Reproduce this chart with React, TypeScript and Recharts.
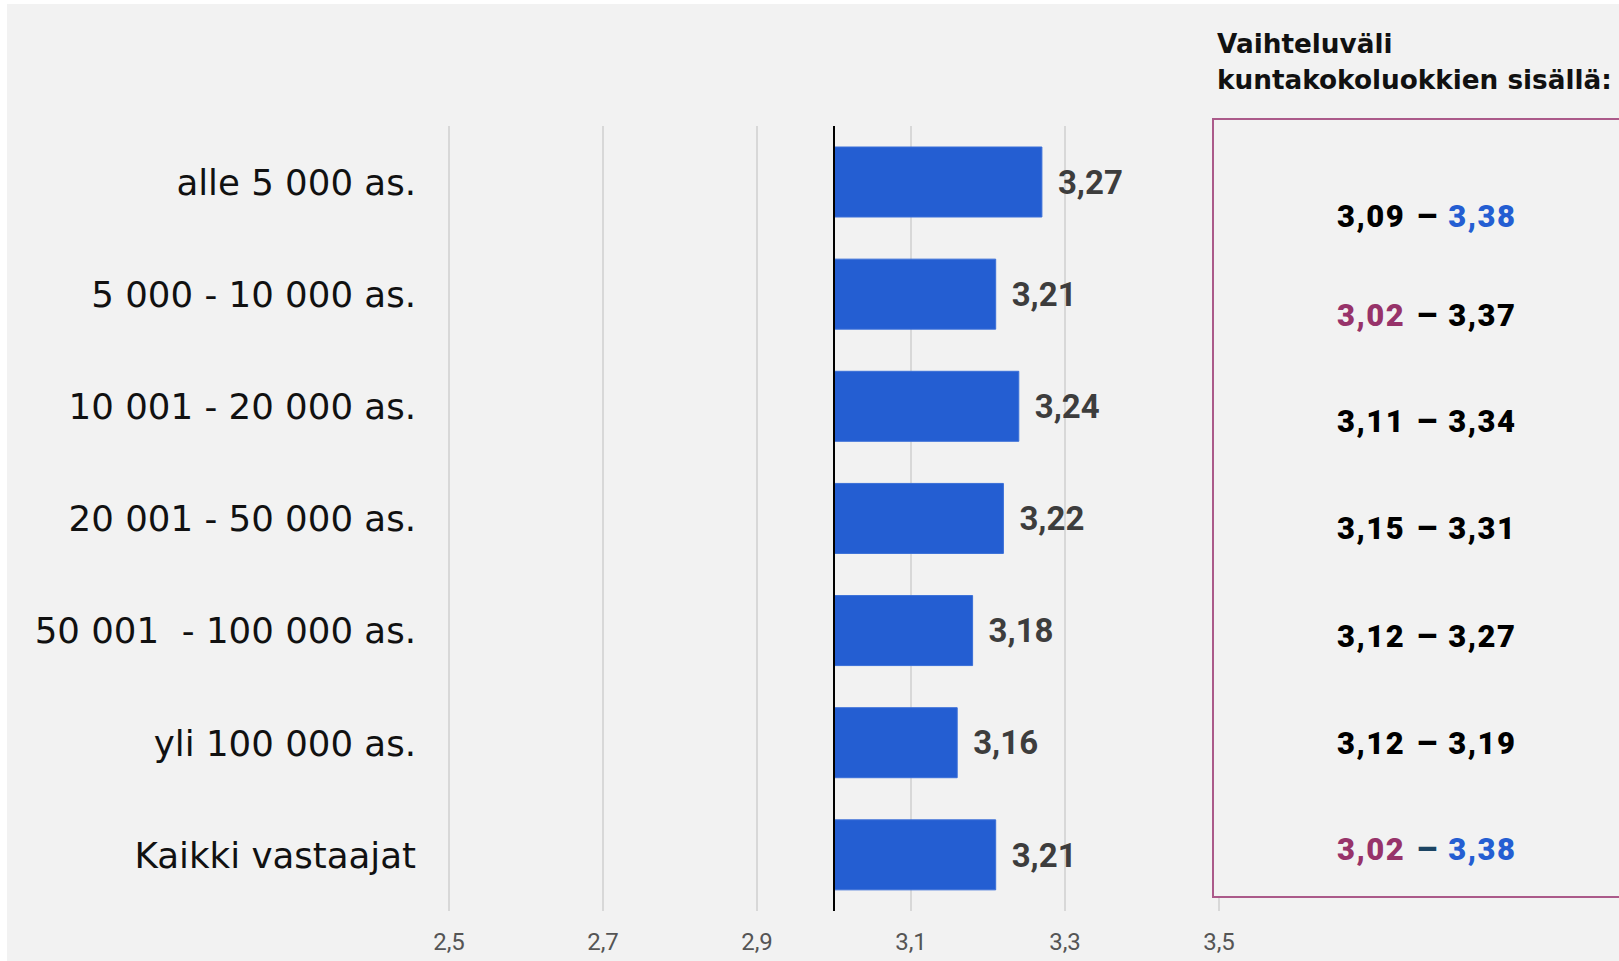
import React from "react";
import {
    BarChart, Bar, XAxis, YAxis, CartesianGrid, ReferenceLine, LabelList
} from 'recharts';

const categories = [
    'alle 5 000 as.',
    '5 000 - 10 000 as.',
    '10 001 - 20 000 as.',
    '20 001 - 50 000 as.',
    '50 001  - 100 000 as.',
    'yli 100 000 as.',
    'Kaikki vastaajat',
];
const means = [3.27, 3.21, 3.24, 3.22, 3.18, 3.16, 3.21];
const rangeLow = [3.09, 3.02, 3.11, 3.15, 3.12, 3.12, 3.02];
const rangeHigh = [3.38, 3.37, 3.34, 3.31, 3.27, 3.19, 3.38];
const xTicks = [2.5, 2.7, 2.9, 3.1, 3.3, 3.5];
const baseline = 3.0;
const panelTitle = ['Vaihteluväli', 'kuntakokoluokkien sisällä:'];

const data = categories.map((name, i) => ({
    name,
    mean: means[i],
    span: [baseline, means[i]],
}));

const fmt = (v: number) => v.toFixed(2).replace('.', ',');
const fmtTick = (v: number) => String(v).replace('.', ',');

// vertical centres of the range rows (in container px)
const rowCenters = [212, 311, 417, 524, 632, 739, 845];

const BLUE = '#245ed2';
const PURPLE = '#97336a';
const NAVY = '#1c4463';

function CategoryTick(props: any) {
    const { x, y, payload } = props;
    return <text x={x} y={y} dy="0.36em" textAnchor="end" fill="#111"
        style={{ whiteSpace: 'pre', fontFamily: '"DejaVu Sans", sans-serif', fontSize: 35.6 }}>
        {payload.value}
    </text>
}

const numStyle = { letterSpacing: '1.5px' };

export default function App() {
    const minLow = Math.min(...rangeLow);
    const maxHigh = Math.max(...rangeHigh);
    return <div style={{
        position: 'absolute', left: 7, top: 4, width: 1612, height: 957,
        background: '#f2f2f2', overflow: 'hidden'
    }}>
        <BarChart
            width={1612}
            height={957}
            layout="vertical"
            data={data}
            margin={{ top: 122, right: 400, left: 0, bottom: 0 }}
            barSize={70}
        >
            <CartesianGrid horizontal={false} stroke="#d8d8d8" strokeWidth={2} />
            <XAxis
                type="number"
                domain={[2.5, 3.5]}
                ticks={xTicks}
                allowDataOverflow
                axisLine={false}
                tickLine={false}
                tickSize={0}
                tickMargin={22}
                height={50}
                tickFormatter={fmtTick}
                tick={{ fill: '#555', fontSize: 24, fontFamily: 'Roboto, sans-serif' }}
            />
            <YAxis
                type="category"
                dataKey="name"
                width={442}
                axisLine={false}
                tickLine={false}
                tickSize={0}
                tickMargin={33}
                tick={<CategoryTick />}
                interval={0}
            />
            <Bar dataKey="span" fill={BLUE} stroke="#3a6fd8" strokeWidth={1} isAnimationActive={false}>
                <LabelList
                    dataKey="mean"
                    position="right"
                    offset={16}
                    formatter={(v: any) => fmt(Number(v))}
                    style={{ fill: '#3d3d3d', fontSize: 33, fontWeight: 700, fontFamily: 'Roboto, sans-serif' }}
                />
            </Bar>
            <ReferenceLine x={baseline} stroke="#000" strokeWidth={2} ifOverflow="visible" />
        </BarChart>

        <div style={{
            position: 'absolute', left: 1210, top: 22, lineHeight: '36px',
            fontFamily: '"DejaVu Sans", sans-serif', fontWeight: 700, fontSize: 26.3, color: '#111',
            whiteSpace: 'nowrap'
        }}>
            {panelTitle.map((t) => <div key={t}>{t}</div>)}
        </div>

        <div style={{
            position: 'absolute', left: 1205, top: 114, width: 440, height: 780,
            border: '2px solid #ab5a8a', background: '#f2f2f2', boxSizing: 'border-box'
        }} />

        {rangeLow.map((lo, i) => {
            const hi = rangeHigh[i];
            const loIsMin = lo === minLow;
            const hiIsMax = hi === maxHigh;
            return <div key={i} style={{
                position: 'absolute', left: 1419, top: rowCenters[i],
                transform: 'translate(-50%, -50%)', whiteSpace: 'nowrap',
                fontFamily: 'Roboto, sans-serif', fontWeight: 900, fontSize: 31, lineHeight: '34px'
            }}>
                <span style={{ ...numStyle, color: loIsMin ? PURPLE : '#000' }}>{fmt(lo)}</span>
                <span style={{ margin: '0 11px', fontSize: 34, color: loIsMin && hiIsMax ? NAVY : '#000' }}>–</span>
                <span style={{ ...numStyle, marginRight: '-1.5px', color: hiIsMax ? BLUE : '#000' }}>{fmt(hi)}</span>
            </div>
        })}
    </div>
}
